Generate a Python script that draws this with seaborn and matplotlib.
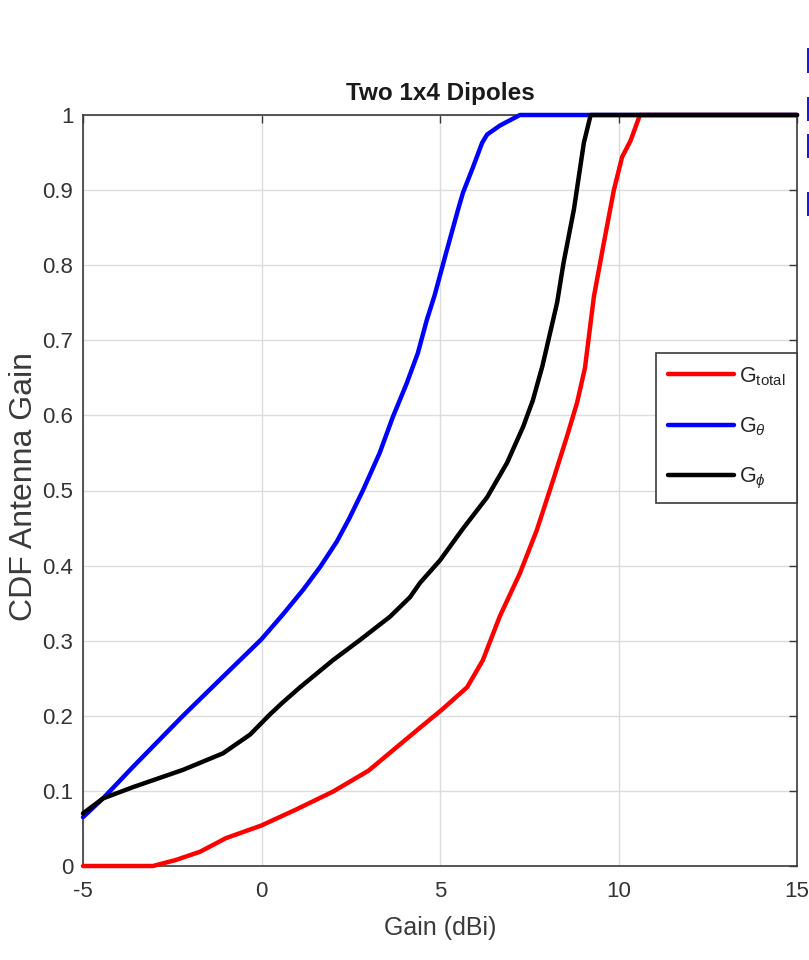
import numpy as np
import pandas as pd
import matplotlib
matplotlib.use("Agg")
import matplotlib.pyplot as plt
from matplotlib.lines import Line2D
from matplotlib.patches import Rectangle
import seaborn as sns

# CDF curves of antenna gain (dBi) for two 1x4 dipole arrays
gain_total = [-5, -3.04, -2.4, -1.72, -1.0, 0.0, 0.96, 2.0, 3.0, 3.68, 4.36, 5.05,
              5.76, 6.2, 6.68, 7.24, 7.71, 8.17, 8.55, 8.84, 9.06, 9.31, 9.59,
              9.87, 10.1, 10.34, 10.6, 15]
cdf_total = [0, 0, 0.008, 0.019, 0.037, 0.054, 0.075, 0.099, 0.127, 0.154, 0.181,
             0.208, 0.238, 0.274, 0.333, 0.39, 0.447, 0.514, 0.571, 0.617, 0.663,
             0.758, 0.83, 0.9, 0.944, 0.966, 1.0, 1.0]

gain_theta = [-5, -4.44, -3.6, -2.2, -1.08, 0.0, 0.6, 1.17, 1.64, 2.11, 2.45, 2.84,
              3.31, 3.68, 4.07, 4.38, 4.63, 4.85, 5.14, 5.5, 5.64, 5.92, 6.18, 6.32,
              6.68, 7.24, 15]
cdf_theta = [0.065, 0.09, 0.132, 0.2, 0.252, 0.302, 0.335, 0.368, 0.398, 0.432,
             0.462, 0.5, 0.55, 0.598, 0.643, 0.683, 0.727, 0.76, 0.811, 0.873,
             0.896, 0.93, 0.963, 0.974, 0.986, 1.0, 1.0]

gain_phi = [-5, -4.44, -3.6, -2.2, -1.08, -0.32, 0.24, 0.6, 1.08, 2.0, 2.76, 3.6,
            4.16, 4.44, 5.0, 5.64, 6.32, 6.88, 7.33, 7.6, 7.87, 8.28, 8.46, 8.75,
            9.03, 9.22, 15]
cdf_phi = [0.07, 0.09, 0.105, 0.128, 0.15, 0.175, 0.202, 0.218, 0.238, 0.274,
           0.301, 0.332, 0.358, 0.377, 0.407, 0.449, 0.491, 0.537, 0.585, 0.62,
           0.666, 0.75, 0.803, 0.874, 0.963, 1.0, 1.0]

series_names = ["total", "theta", "phi"]
legend_labels = [r"G$_{\mathregular{total}}$", r"G$_{\theta}$", r"G$_{\phi}$"]
series_colors = ["#ff0000", "#0000ff", "#000000"]

x_ticks = [-5, 0, 5, 10, 15]
y_ticks = [0, 0.1, 0.2, 0.3, 0.4, 0.5, 0.6, 0.7, 0.8, 0.9, 1]
y_tick_labels = ["0", "0.1", "0.2", "0.3", "0.4", "0.5", "0.6", "0.7", "0.8", "0.9", "1"]

df = pd.concat([
    pd.DataFrame({"gain": gain_total, "cdf": cdf_total, "comp": "total"}),
    pd.DataFrame({"gain": gain_theta, "cdf": cdf_theta, "comp": "theta"}),
    pd.DataFrame({"gain": gain_phi, "cdf": cdf_phi, "comp": "phi"}),
], ignore_index=True)

sns.set_theme(style="white")
plt.rcParams["font.family"] = ["Liberation Sans", "DejaVu Sans"]
plt.rcParams["mathtext.fontset"] = "custom"
plt.rcParams["mathtext.rm"] = "Liberation Sans"
plt.rcParams["mathtext.it"] = "Liberation Sans:italic"

fig = plt.figure(figsize=(8.09, 9.6), dpi=100)
ax = fig.add_axes([83 / 809, 1 - 866 / 960, 714 / 809, 751 / 960])

sns.lineplot(data=df, x="gain", y="cdf", hue="comp", hue_order=series_names,
             palette=series_colors, estimator=None, sort=False, linewidth=3.2,
             legend=False, ax=ax, zorder=3)
for ln in ax.get_lines():
    ln.set_clip_on(False)

ax.set_xlim(-5, 15)
ax.set_ylim(0, 1)
ax.set_xticks(x_ticks)
ax.set_xticklabels([str(t) for t in x_ticks])
ax.set_yticks(y_ticks)
ax.set_yticklabels(y_tick_labels)
ax.grid(True, color="#dcdcdc", linewidth=1.0)
ax.set_axisbelow(True)

spine_col = "#3a3a3a"
for s in ax.spines.values():
    s.set_visible(True)
    s.set_color(spine_col)
    s.set_linewidth(1.2)

ax.tick_params(axis="both", which="both", direction="in", length=6, width=1.0,
               color=spine_col, labelcolor="#333333", labelsize=16,
               top=True, right=True)
ax.tick_params(axis="y", pad=7)
ax.tick_params(axis="x", pad=11)

ax.set_title("Two 1x4 Dipoles", fontsize=17.5, fontweight="bold", color="#1a1a1a", pad=11)
ax.set_xlabel("Gain (dBi)", fontsize=18, color="#3a3a3a", labelpad=10)
ax.set_ylabel("CDF Antenna Gain", fontsize=23, color="#3a3a3a",
              ha="center", va="center")
ax.yaxis.set_label_coords(-0.082, 0.505)

handles = [Line2D([0], [0], color=c, linewidth=3.2) for c in series_colors]
leg = ax.legend(handles, legend_labels, loc="upper right",
                bbox_to_anchor=(1.0, 0.683), fontsize=15.5, frameon=True,
                fancybox=False, edgecolor=spine_col, handlelength=3.1,
                handletextpad=0.2, labelspacing=1.3, borderpad=0.55,
                borderaxespad=0.0)
leg.get_frame().set_linewidth(1.2)
leg.get_frame().set_facecolor("white")
leg.get_frame().set_alpha(1.0)

# small blue markers along the right margin
for y0, y1 in [(48, 73), (97, 121), (134, 158), (192, 216)]:
    fig.add_artist(Rectangle((807 / 809, 1 - y1 / 960), 3 / 809, (y1 - y0) / 960,
                             transform=fig.transFigure, color="#1a1ae6", lw=0))

fig.savefig("out.png", dpi=100)
